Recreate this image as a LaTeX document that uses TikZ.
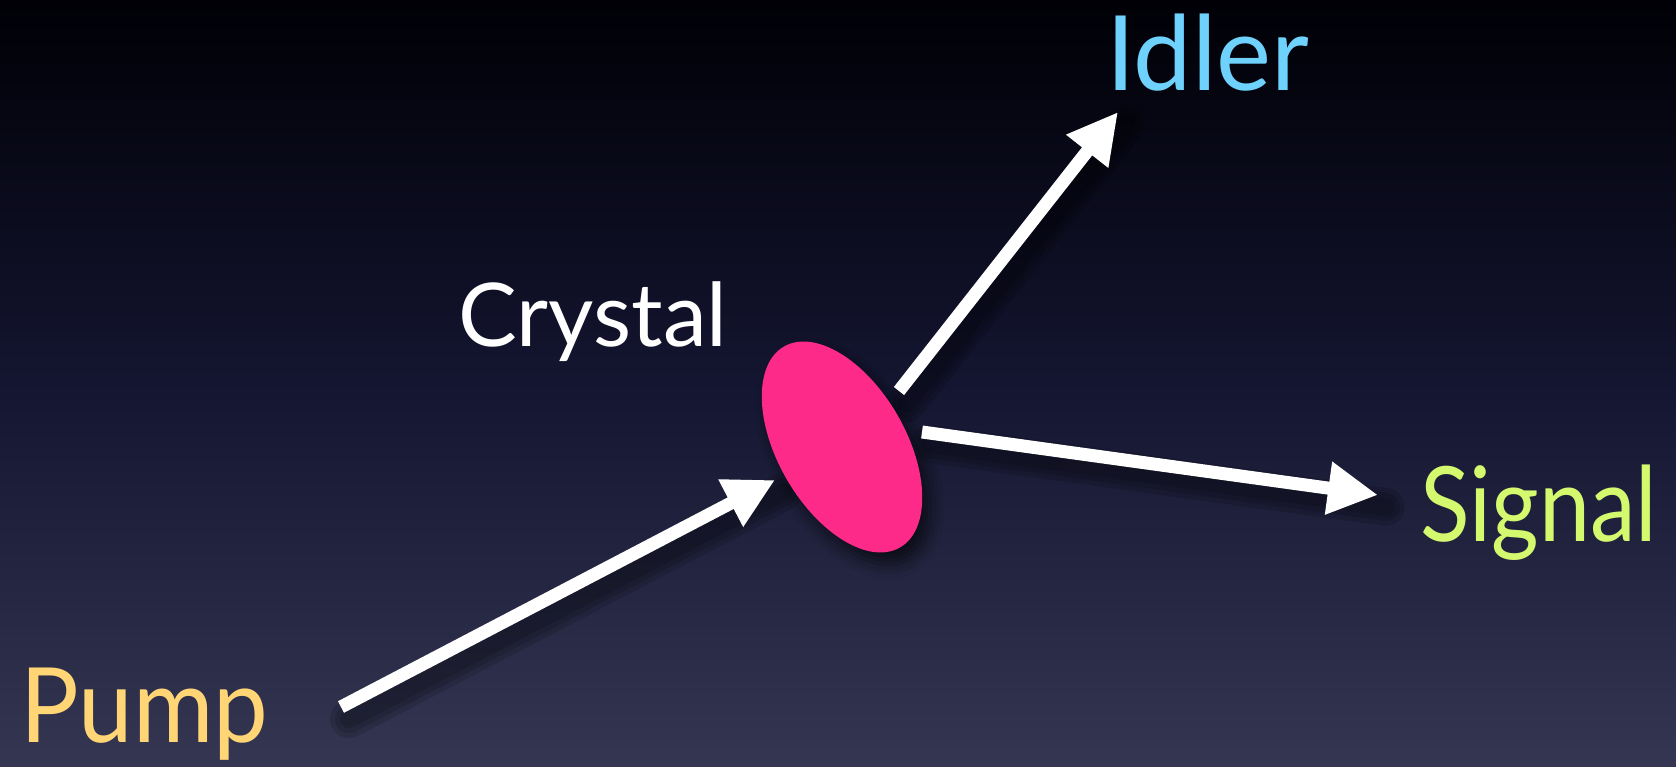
\documentclass[tikz,border=0pt]{standalone}
\usepackage{fontspec}
\setmainfont{Lato}
\newfontfamily\pumpfont[FakeStretch=0.94]{Lato}
\newfontfamily\signalfont[FakeStretch=0.88]{Lato}
\usetikzlibrary{arrows.meta,shapes.geometric,shadows.blur}

\definecolor{bgtop}{RGB}{0,0,6}
\definecolor{bgmid}{RGB}{20,21,48}
\definecolor{bgbot}{RGB}{52,54,82}
\definecolor{xtalpink}{RGB}{254,42,137}
\definecolor{pumpcol}{RGB}{255,213,117}
\definecolor{idlercol}{RGB}{110,210,253}
\definecolor{signalcol}{RGB}{212,248,110}

\begin{document}
\begin{tikzpicture}[x=1pt,y=1pt,
  ray/.style={white,line width=13pt,-{Triangle[length=50pt,width=50pt]}},
  raydrop/.style={black,line width=#1,opacity=.13,line cap=round,
    transform canvas={shift={(8pt,-12pt)}}},
  biglbl/.style={anchor=base west,inner sep=0pt,font=\fontsize{104}{110}\selectfont},
  smalllbl/.style={anchor=base west,inner sep=0pt,font=\fontsize{88}{92}\selectfont},
  xtalshape/.style={ellipse,fill=xtalpink,inner sep=0pt,
    minimum width=232pt,minimum height=128pt,rotate=-60,
    blur shadow={shadow xshift=8pt,shadow yshift=-12pt,shadow blur radius=14pt,shadow opacity=60}}]
\useasboundingbox (0,0) rectangle (1676,766);
\shade[top color=bgtop,bottom color=bgbot,middle color=bgmid] (0,0) rectangle (1676,766);

% labels
\node[biglbl,text=pumpcol] (pump) at (20,24) {\pumpfont Pump};
\node[biglbl,text=idlercol] (idler) at (1106,675) {Idler};
\node[biglbl,text=signalcol] (signal) at (1420,224) {\signalfont Signal};
\node[smalllbl,text=white] (crystal) at (458,419) {Crystal};

% ends of the rays
\coordinate (pumptail) at (341,59);
\coordinate (pumptip) at (775,286);
\coordinate (idlertail) at (899,375);
\coordinate (idlertip) at (1118,654);
\coordinate (signaltail) at (922,334);
\coordinate (signaltip) at (1378,271);

% soft shadows
\foreach \w in {38,28,18} {
  \draw[raydrop=\w pt] (pumptail) -- (pumptip);
  \draw[raydrop=\w pt] (idlertail) -- (idlertip);
  \draw[raydrop=\w pt] (signaltail) -- (signaltip);
}

% the crystal
\node[xtalshape] (xtal) at (842,319) {};

% rays
\draw[ray] (pumptail) -- (pumptip);
\draw[ray] (idlertail) -- (idlertip);
\draw[ray] (signaltail) -- (signaltip);
\end{tikzpicture}
\end{document}
